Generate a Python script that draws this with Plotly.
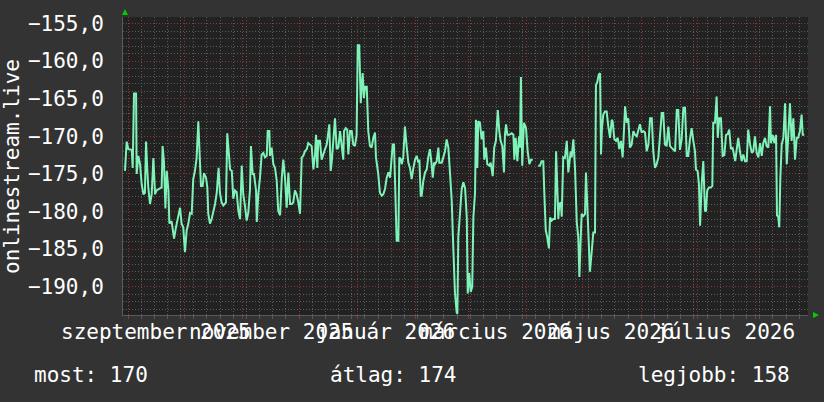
import pandas as pd
import plotly.graph_objects as go

START = pd.Timestamp("2025-09-01")

# day offsets from START and values, in segments
a_days = [-1.6, -0.7, 0.2, 2.0, 2.5, 3.2, 4.3, 4.6, 5.5, 6.4,
          7.3, 8.2, 9.0, 9.6, 10.3, 10.8, 11.7, 12.6, 13.5, 14.4,
          15.2, 17.0, 17.9, 18.4, 19.1, 19.9, 20.6, 21.5, 22.0, 23.2,
          24.5, 25.5, 26.8, 27.7, 28.5, 29.4, 30.3, 31.2, 32.1, 33.0,
          33.9, 34.7, 35.6, 36.5, 37.4, 38.3, 38.8, 39.7, 40.4, 41.5,
          42.2, 42.7, 43.6, 44.5, 46.3, 47.2, 48.2, 48.9, 49.8, 50.7,
          52.1, 52.8, 54.3]
a_vals = [-174.6, -170.7, -171.7, -171.8, -174.2, -164.3, -164.3, -175.0, -172.6, -173.7,
          -176.4, -177.7, -177.5, -170.7, -174.6, -176.8, -179.0, -177.7, -172.9, -177.7,
          -177.2, -177.0, -176.8, -171.3, -173.3, -179.6, -174.6, -177.2, -181.6, -181.3,
          -183.6, -182.1, -180.8, -179.5, -181.6, -182.1, -185.4, -182.5, -181.6, -180.2,
          -180.3, -175.7, -174.6, -172.9, -168.0, -173.3, -176.6, -176.6, -174.9, -175.5,
          -176.8, -180.3, -181.6, -181.0, -179.0, -177.5, -174.2, -177.5, -178.8, -179.2,
          -178.8, -169.6, -174.4]

b_days = [55.2, 56.0, 56.9, 57.8, 58.7, 59.6, 60.5, 61.3, 62.2, 63.1,
          64.0, 64.9, 65.4, 66.3, 67.0, 68.1, 68.5, 69.3, 70.2, 71.1,
          72.0, 72.9, 73.8, 74.3, 75.2, 75.5, 76.4, 77.3, 78.2, 79.1,
          79.9, 80.9, 81.8, 82.6, 83.5, 84.4, 85.3, 86.2, 87.1, 87.9,
          88.8, 89.7, 90.6, 91.5, 92.4, 93.2, 94.1, 95.1, 95.9, 96.8,
          97.7, 98.6, 99.5, 100.0, 100.7, 101.2, 102.1, 103.0, 103.9, 104.8,
          105.7, 106.5, 107.1, 107.8, 108.4, 109.2, 110.1, 111.0, 111.9, 112.8]
b_vals = [-174.6, -178.3, -177.2, -177.4, -179.9, -181.0, -173.9, -177.7, -179.2, -181.2,
          -180.1, -177.0, -171.3, -175.0, -175.0, -177.2, -181.4, -177.7, -175.5, -172.4,
          -172.2, -172.8, -172.6, -169.3, -169.3, -172.6, -171.5, -173.7, -174.2, -175.9,
          -179.9, -180.5, -175.5, -173.1, -175.5, -179.5, -174.8, -179.0, -179.0, -178.8,
          -177.2, -177.7, -178.8, -180.3, -172.8, -172.6, -172.0, -171.7, -170.9, -171.1,
          -171.3, -174.4, -172.4, -169.8, -174.2, -170.6, -170.6, -173.1, -172.2, -171.7,
          -171.1, -169.3, -168.4, -174.6, -173.3, -170.6, -167.6, -171.7, -171.5, -169.3]

c_days = [113.7, 114.5, 114.9, 115.8, 116.6, 117.2, 118.1, 119.0, 119.8, 120.7,
          121.6, 122.2, 123.0, 123.8, 124.3, 124.8, 125.5, 126.1, 127.0, 127.8,
          128.7, 129.6, 130.5, 131.4, 131.9, 133.1, 134.0, 135.0, 135.8, 136.7,
          137.6, 138.5, 139.4, 140.3, 140.8, 141.5, 142.0, 142.9, 143.8, 144.3,
          145.1, 145.6, 146.4, 147.3, 148.2, 149.1, 150.0, 150.9, 151.8, 152.7,
          153.6, 154.4, 155.0, 155.7, 156.2, 157.1, 158.0, 158.9, 159.7, 160.6,
          161.5, 162.1, 162.8, 163.3, 164.2, 165.1, 165.6, 166.3, 166.9, 167.7,
          168.6, 169.5, 170.4, 171.3, 172.2, 172.7, 173.4, 173.9]
c_vals = [-171.3, -173.1, -169.3, -168.9, -169.1, -172.4, -169.3, -169.3, -171.1, -171.3,
          -169.8, -157.9, -157.9, -165.6, -163.4, -161.6, -164.9, -163.4, -163.4, -169.3,
          -171.3, -171.5, -170.2, -169.5, -172.8, -175.0, -177.5, -177.9, -177.7, -177.0,
          -175.5, -174.8, -175.5, -173.1, -171.1, -171.1, -175.0, -183.9, -183.9, -172.8,
          -173.0, -173.7, -172.8, -168.7, -171.3, -173.5, -174.2, -175.7, -174.2, -173.1,
          -172.6, -173.5, -173.1, -177.9, -177.9, -175.9, -174.8, -174.4, -172.8, -171.7,
          -173.7, -175.5, -173.5, -173.7, -173.3, -171.5, -173.5, -173.5, -173.5, -172.8,
          -172.0, -170.4, -171.5, -175.0, -178.6, -182.5, -187.8, -190.7]

d_days = [174.8, 175.2, 175.7, 176.6, 177.5, 178.4, 179.3, 180.2, 180.7, 181.5,
          182.3, 183.1, 183.7, 184.6, 185.1, 185.8, 186.3, 187.2, 188.1, 189.0,
          189.5, 190.4, 191.1, 192.2, 192.9, 194.0, 194.8, 195.7, 196.7, 197.5,
          198.2, 199.1, 200.0, 200.5, 201.1, 201.8, 202.8, 204.1, 205.0, 205.5,
          206.2, 207.1, 208.0, 208.5, 209.0, 209.7, 210.6, 211.7, 212.6, 213.5,
          214.4, 215.3, 216.7, 218.2, 219.1, 220.0, 220.9, 221.4, 222.2, 223.0,
          223.9, 224.5, 225.4, 226.2, 227.1, 227.7, 228.4, 228.9, 229.4]
d_vals = [-193.4, -193.6, -183.4, -180.3, -177.0, -176.1, -176.9, -180.8, -190.9, -188.2,
          -190.7, -190.0, -180.8, -177.5, -167.8, -174.2, -168.0, -168.2, -170.4, -169.3,
          -173.1, -171.5, -173.7, -173.9, -173.5, -175.3, -171.5, -170.6, -166.5, -169.3,
          -170.6, -171.3, -174.8, -169.8, -168.4, -169.8, -169.8, -169.6, -169.8, -173.1,
          -170.2, -173.3, -170.0, -171.5, -162.1, -173.9, -168.2, -168.9, -172.0, -173.7,
          -173.1, -173.1, None, -173.9, -173.9, -173.3, -173.3, -177.2, -182.5, -183.4,
          -184.9, -180.8, -181.2, -181.0, -181.0, -172.0, -179.5, -181.0, -179.0]

e_days = [230.2, 230.7, 231.5, 232.4, 233.4, 234.2, 234.7, 235.5, 236.0, 236.9,
          237.8, 238.7, 239.5, 240.1, 240.8, 241.3, 242.2, 243.1, 243.6, 244.3,
          244.8, 245.7, 246.7, 247.5, 248.4, 248.9, 249.6, 250.4, 251.1, 251.6,
          252.1, 252.8, 253.7, 254.6, 255.5, 256.4, 257.3, 257.8, 258.7, 259.6,
          260.5, 261.3, 262.2, 263.1, 263.8, 264.4, 265.3, 266.1, 267.0, 267.9,
          268.8, 269.7, 270.6, 271.4, 272.3, 273.2, 274.1, 275.0, 275.9, 276.8,
          277.7, 278.6, 279.4, 280.3, 281.2, 282.1, 283.0, 283.9, 284.7, 285.6,
          286.5, 287.4, 288.3, 289.2, 290.1, 291.0, 291.9, 292.7, 293.6]
e_vals = [-178.8, -180.7, -172.8, -172.9, -170.6, -174.8, -173.9, -172.0, -172.8, -170.4,
          -174.4, -181.4, -183.4, -188.7, -183.6, -180.3, -180.6, -180.3, -174.8, -178.6,
          -183.0, -188.0, -185.2, -182.8, -182.8, -163.2, -162.8, -161.8, -161.6, -172.4,
          -168.9, -167.1, -166.7, -166.7, -168.7, -170.2, -167.8, -168.0, -170.4, -170.6,
          -170.2, -171.7, -170.6, -172.8, -169.3, -166.0, -168.2, -167.6, -171.5, -171.1,
          -169.3, -169.8, -170.0, -169.3, -168.4, -169.5, -169.3, -169.5, -172.0, -171.1,
          -167.6, -167.6, -172.0, -174.2, -173.7, -172.8, -170.2, -166.9, -166.9, -171.1,
          -171.3, -168.7, -171.3, -171.5, -171.7, -172.0, -166.5, -166.5, -171.8]

f_days = [294.5, 295.4, 296.3, 297.2, 298.0, 298.9, 299.8, 300.7, 301.6, 302.1,
          303.0, 303.7, 304.3, 305.2, 306.0, 306.9, 307.4, 308.1, 309.0, 309.9,
          310.8, 311.3, 312.2, 313.1, 313.7, 314.5, 315.4, 316.3, 317.2, 318.1,
          319.0, 319.8, 320.7, 321.6, 322.3, 323.0, 323.8, 324.6, 325.5, 326.4,
          327.3, 328.2, 329.1, 329.9, 330.9, 331.8, 332.6, 333.5, 334.4, 335.3,
          336.2, 337.1, 337.9, 338.8, 339.7, 340.6, 341.5, 342.0, 342.9, 343.8,
          344.7, 345.2, 345.9, 346.4, 347.0, 347.7, 348.6, 349.5, 350.4, 351.2,
          352.1, 353.0, 353.9, 354.8, 355.7, 356.5, 357.4, 358.3, 358.9, 359.7]
f_vals = [-170.4, -166.2, -166.2, -172.6, -172.6, -170.4, -168.9, -170.6, -172.0, -174.4,
          -174.6, -176.4, -181.9, -176.1, -173.3, -179.9, -180.0, -177.2, -176.8, -176.8,
          -176.6, -168.2, -168.2, -164.7, -170.2, -167.6, -167.6, -172.6, -172.5, -169.8,
          -169.7, -169.1, -171.7, -171.5, -172.2, -173.3, -171.7, -170.2, -172.0, -173.3,
          -172.4, -173.3, -173.3, -169.1, -171.1, -172.2, -172.0, -170.0, -172.2, -172.8,
          -170.9, -172.6, -170.9, -170.2, -171.3, -171.5, -166.0, -170.9, -169.8, -170.9,
          -169.8, -180.5, -180.7, -182.1, -175.5, -171.1, -170.2, -165.6, -173.7, -168.9,
          -165.6, -170.6, -167.6, -173.1, -170.2, -170.2, -169.3, -167.1, -169.8, -169.8]

series_name = "onlinestream.live"
month_starts = ["2025-09-01", "2025-10-01", "2025-11-01", "2025-12-01", "2026-01-01",
                "2026-02-01", "2026-03-01", "2026-04-01", "2026-05-01", "2026-06-01",
                "2026-07-01", "2026-08-01"]
label_dates = ["2025-09-16", "2025-11-16", "2026-01-16", "2026-03-16", "2026-05-16", "2026-07-16"]
label_texts = ["szeptember 2025", "november 2025", "január 2026", "március 2026",
               "május 2026", "július 2026"]
legend_labels = ["most", "átlag", "legjobb"]
legend_values = [170, 174, 158]

days = a_days + b_days + c_days + d_days + e_days + f_days
vals = a_vals + b_vals + c_vals + d_vals + e_vals + f_vals
dates = [START + pd.Timedelta(days=d) for d in days]

FONT = "DejaVu Sans Mono"
WHITE = "#ffffff"
MAJOR = "rgba(150,55,55,0.95)"
MINOR = "rgba(95,95,95,0.95)"

fig = go.Figure()
fig.add_trace(go.Scatter(x=dates, y=vals, mode="lines",
                         line=dict(color="#7ff2b8", width=2),
                         connectgaps=False, hoverinfo="skip"))

x0 = START + pd.Timedelta(days=-2.66)
x1 = START + pd.Timedelta(days=361.7)

fig.update_layout(
    width=824, height=402,
    margin=dict(l=123, r=16, t=15, b=87),
    paper_bgcolor="#333333", plot_bgcolor="#222222",
    showlegend=False, separators=", ",
    font=dict(family=FONT, size=21, color=WHITE),
    xaxis=dict(
        type="date", range=[x0, x1],
        tickvals=month_starts, showticklabels=False,
        showgrid=True, gridcolor=MAJOR, griddash="1px,2px", gridwidth=1,
        ticks="outside", ticklen=3, tickcolor=MAJOR,
        minor=dict(dtick=7 * 86400000, tick0="2025-09-01", showgrid=True,
                   gridcolor=MINOR, griddash="1px,2px", ticks="outside",
                   ticklen=3, tickcolor=MINOR),
        showline=True, linecolor="#5a5a5a", linewidth=1, zeroline=False,
        fixedrange=True,
    ),
    yaxis=dict(
        range=[-193.76, -154.13], tick0=-155, dtick=5, tickformat=".1f",
        tickfont=dict(family=FONT, size=21, color=WHITE),
        showgrid=True, gridcolor=MAJOR, griddash="1px,2px", gridwidth=1,
        minor=dict(dtick=1, showgrid=True, gridcolor=MINOR, griddash="1px,2px"),
        ticks="", ticklabelstandoff=14,
        showline=True, linecolor="#5a5a5a", linewidth=1, zeroline=False,
        fixedrange=True,
    ),
)

PW = 824 - 123 - 16
PH = 402 - 15 - 87

def px(xp):
    return (xp - 123) / PW

def py(yp):
    return (315 - yp) / PH

annotations = []
annotations.append(dict(text=series_name, xref="paper", yref="paper",
                        x=px(12), y=0.5, textangle=-90, showarrow=False,
                        xanchor="center", yanchor="middle",
                        font=dict(family=FONT, size=21, color=WHITE)))
for d, t in zip(label_dates, label_texts):
    annotations.append(dict(text=t, xref="x", yref="paper", x=d, y=py(332),
                            showarrow=False, xanchor="center", yanchor="middle",
                            font=dict(family=FONT, size=21, color=WHITE)))
legend_x = [32, 328, 636]
for lx, lab, v in zip(legend_x, legend_labels, legend_values):
    annotations.append(dict(text=f"{lab}: {v}", xref="paper", yref="paper",
                            x=px(lx), y=py(375), showarrow=False,
                            xanchor="left", yanchor="middle",
                            font=dict(family=FONT, size=21, color=WHITE)))
fig.update_layout(annotations=annotations)

# axis arrows
fig.add_shape(type="path", xref="paper", yref="paper",
              path=f"M {px(122)} {py(13)} L {px(128)} {py(13)} L {px(125)} {py(7)} Z",
              fillcolor="#00cc00", line=dict(width=0))
fig.add_shape(type="path", xref="paper", yref="paper",
              path=f"M {px(813)} {py(312)} L {px(813)} {py(318)} L {px(819)} {py(315)} Z",
              fillcolor="#00cc00", line=dict(width=0))

fig.write_html("out.html",
               config={"displayModeBar": False, "staticPlot": True},
               post_script="document.body.style.margin='0';document.body.style.overflow='hidden';")
